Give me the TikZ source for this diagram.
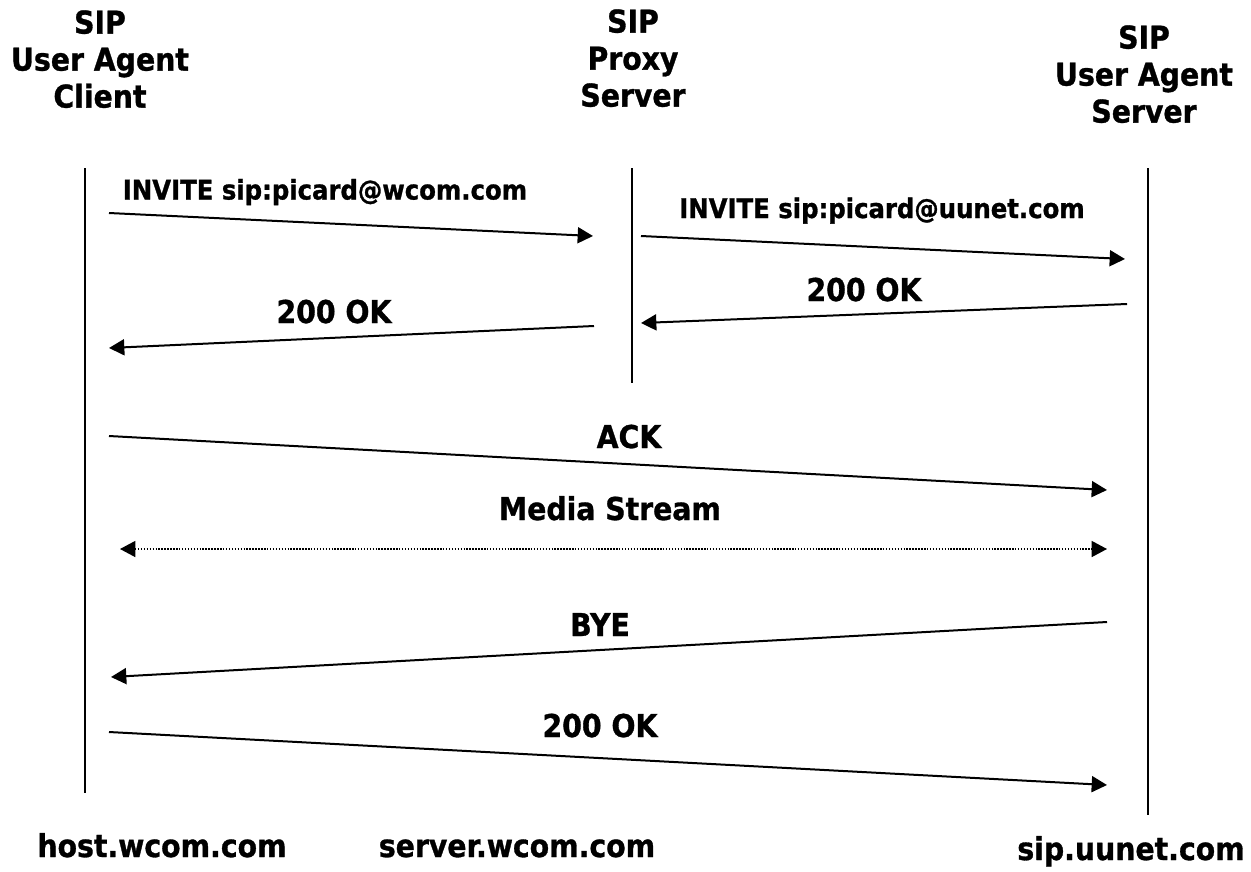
\documentclass[tikz,border=0pt]{standalone}
\usepackage{fontspec}
\setmainfont{DejaVu Sans Condensed}[BoldFeatures={FakeBold=1}]
\usetikzlibrary{arrows.meta}
\begin{document}
\begin{tikzpicture}[x=0.75pt,y=-0.75pt,
  big/.style={font=\bfseries\fontsize{23.6}{27.75}\selectfont, inner sep=0pt, align=center},
  small/.style={font=\bfseries\fontsize{20.3}{24}\selectfont, inner sep=0pt},
  life/.style={line width=1.5pt},
  msg/.style={line width=1.5pt, -{Triangle[length=11.5pt,width=12pt]}},
  media/.style={line width=1.1pt, dash pattern=on 1.1pt off 1.1pt,
    {Triangle[length=11.5pt,width=12pt]}-{Triangle[length=11.5pt,width=12pt]}}]
\path[use as bounding box] (0,0) rectangle (1251,871);

% headers
\node[big, anchor=north] (hUAC) at (100,10) {SIP\\User Agent\\Client};
\node[big, anchor=north] (hProxy) at (633,9) {SIP\\Proxy\\Server};
\node[big, anchor=north] (hUAS) at (1144,25) {SIP\\User Agent\\Server};

% lifelines
\coordinate (uacTop) at (85,168);  \coordinate (uacBot) at (85,793);
\coordinate (prTop) at (632,168);  \coordinate (prBot) at (632,383);
\coordinate (uasTop) at (1148,168); \coordinate (uasBot) at (1148,815);
\draw[life] (uacTop) -- (uacBot);
\draw[life] (prTop) -- (prBot);
\draw[life] (uasTop) -- (uasBot);

% message end points
\coordinate (m1a) at (109,213);  \coordinate (m1b) at (593,236);
\coordinate (m2a) at (641,236);  \coordinate (m2b) at (1125,259);
\coordinate (m3a) at (1127,304); \coordinate (m3b) at (641,323);
\coordinate (m4a) at (594,326);  \coordinate (m4b) at (109,348);
\coordinate (m5a) at (109,436);  \coordinate (m5b) at (1107,490);
\coordinate (m6a) at (120,549);  \coordinate (m6b) at (1107,549);
\coordinate (m7a) at (1107,622); \coordinate (m7b) at (111,677);
\coordinate (m8a) at (109,732);  \coordinate (m8b) at (1107,785);

\draw[msg] (m1a) -- (m1b);
\draw[msg] (m2a) -- (m2b);
\draw[msg] (m3a) -- (m3b);
\draw[msg] (m4a) -- (m4b);
\draw[msg] (m5a) -- (m5b);
\draw[media] (m6a) -- (m6b);
\draw[msg] (m7a) -- (m7b);
\draw[msg] (m8a) -- (m8b);

% message labels
\node[small, anchor=base] (l1) at (325,199.5) {INVITE sip:picard@wcom.com};
\node[small, anchor=base] (l2) at (882,218) {INVITE sip:picard@uunet.com};
\node[big, anchor=base] (l3) at (864,301) {200 OK};
\node[big, anchor=base] (l4) at (334,323) {200 OK};
\node[big, anchor=base] (l5) at (629,448) {ACK};
\node[big, anchor=base] (l6) at (610,520) {Media Stream};
\node[big, anchor=base] (l7) at (600,636) {BYE};
\node[big, anchor=base] (l8) at (600,737) {200 OK};

% host names
\node[big, anchor=base] (n1) at (162,857) {host.wcom.com};
\node[big, anchor=base] (n2) at (517,857) {server.wcom.com};
\node[big, anchor=base] (n3) at (1131,860) {sip.uunet.com};
\end{tikzpicture}
\end{document}
